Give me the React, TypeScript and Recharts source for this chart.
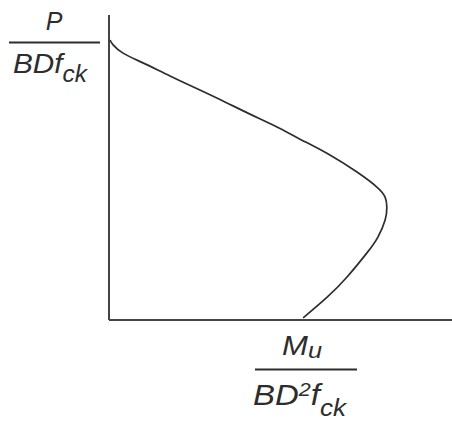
import { LineChart, Line, XAxis, YAxis, Label } from 'recharts';

// interaction curve (normalised units, both axes 0..1)
const moment = [
  0.003, 0.012, 0.041, 0.099, 0.178, 0.265, 0.338, 0.411, 0.484, 0.557, 0.644,
  0.723, 0.781, 0.805, 0.81, 0.805, 0.784, 0.752, 0.694, 0.636, 0.566,
];
const load = [
  0.918, 0.902, 0.875, 0.843, 0.8, 0.754, 0.715, 0.675, 0.636, 0.593, 0.541,
  0.485, 0.436, 0.403, 0.37, 0.328, 0.272, 0.22, 0.141, 0.075, 0.007,
];

const curve = moment.map((m, i) => ({ m, p: load[i] }));

const INK = '#2d2d2d';
const FONT = '"Liberation Sans", Arial, sans-serif';

function YLabel({ viewBox }: any) {
  const cx = viewBox.x + viewBox.width - 55;
  const top = viewBox.y;
  return (
    <g fontFamily={FONT} fontStyle="italic" fill={INK}>
      <text x={cx} y={top + 15} fontSize={25} textAnchor="middle">P</text>
      <line x1={cx - 45} x2={cx + 46} y1={top + 27.5} y2={top + 27.5} stroke={INK} strokeWidth={2} />
      <text x={cx - 41} y={top + 58} fontSize={28} textLength={74} lengthAdjust="spacingAndGlyphs">
        BDf
        <tspan fontSize={23} dy={9}>ck</tspan>
      </text>
    </g>
  );
}

function XLabel({ viewBox }: any) {
  const cx = viewBox.x + 197;
  const top = viewBox.y;
  return (
    <g fontFamily={FONT} fontStyle="italic" fill={INK}>
      <text x={cx - 24} y={top + 35} fontSize={27} textLength={40} lengthAdjust="spacingAndGlyphs">
        M
        <tspan fontSize={22} dy={3}>u</tspan>
      </text>
      <line x1={cx - 51} x2={cx + 51} y1={top + 49.5} y2={top + 49.5} stroke={INK} strokeWidth={2} />
      <text x={cx - 53} y={top + 85} fontSize={29} textLength={93} lengthAdjust="spacingAndGlyphs">
        BD
        <tspan fontSize={19} dy={-9}>2</tspan>
        <tspan dy={9}>f</tspan>
        <tspan fontSize={23} dy={11}>ck</tspan>
      </text>
    </g>
  );
}

export default function App() {
  return (
    <div style={{ position: 'fixed', left: 0, top: 0, width: 452, height: 423, background: '#fff' }}>
      <LineChart width={452} height={423} data={curve} margin={{ top: 15, right: 0, bottom: 73, left: 49 }}>
        <XAxis
          dataKey="m"
          type="number"
          domain={[0, 1]}
          height={30}
          tick={false}
          tickLine={false}
          axisLine={{ stroke: '#444', strokeWidth: 2 }}
        >
          <Label content={XLabel} />
        </XAxis>
        <YAxis
          dataKey="p"
          type="number"
          domain={[0, 1]}
          width={60}
          tick={false}
          tickLine={false}
          axisLine={{ stroke: '#444', strokeWidth: 2 }}
        >
          <Label content={YLabel} />
        </YAxis>
        <Line
          dataKey="p"
          type="natural"
          stroke={INK}
          strokeWidth={1.7}
          dot={false}
          isAnimationActive={false}
        />
      </LineChart>
    </div>
  );
}
